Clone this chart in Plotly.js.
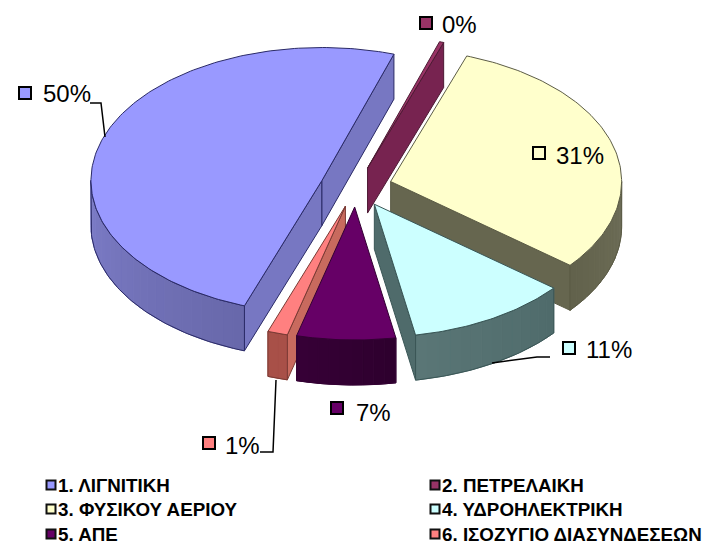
<!DOCTYPE html>
<html><head><meta charset="utf-8">
<script src="https://cdn.plot.ly/plotly-3.0.1.min.js"></script>
<style>html,body{margin:0;padding:0;background:#fff}</style></head>
<body><div id="chart" style="width:705px;height:544px"></div>
<script>
// ---- data ----
const categories = ["1. ΛΙΓΝΙΤΙΚΗ","2. ΠΕΤΡΕΛΑΙΚΗ","3. ΦΥΣΙΚΟΥ ΑΕΡΙΟΥ","4. ΥΔΡΟΗΛΕΚΤΡΙΚΗ","5. ΑΠΕ","6. ΙΣΟΖΥΓΙΟ ΔΙΑΣΥΝΔΕΣΕΩΝ"];
const shares = [49.6,0.3,30.5,11.3,6.9,1.4];
// ---- styles ----
const topColors = ["#9999ff","#993366","#ffffcc","#ccffff","#660066","#ff8080"];
const radialColors = ["#7777c2","#772350","#66664f","#4f6b6b","#330033","#c86a5e"];
const wallFrom = ["#7d7dc8","#772350","#6e6e58","#4f6b6b","#2e002e","#a85048"];
const wallTo = ["#6868aa","#772350","#62624c","#5a7676","#360036","#a85048"];
const edgeColors = ["#2a2a66","#4d1a33","#5c5c46","#3a5656","#330033","#7a3a34"];
// ---- pie geometry ----
const startAngle = 199.6, cx = 356, cy = 187, rx = 231, ry = 133, depth = 45, pullX = 36, pullY = 20;
const paintOrder = [1,2,0,3,5,4];
// ---- label / legend placement ----
const labelMarkX = [25,426,539,569,337,209];
const labelMarkY = [93,23,153,348,408,443];
const labelTextX = [43,442,556,586,356,225];
const labelTextY = [93,24,155,349,412,445];
const legendMarkX = [51,435,51,435,51,435];
const legendTextX = [58,442,58,442,58,442];
const legendY = [485,485,509,509,534,534];
const leaderX = [[90,101,105],[550,537,492],[260,273,276]];
const leaderY = [[103,103,137],[357,357,363],[452,452,380]];

const rad = d => d*Math.PI/180;
const total = shares.reduce((a,b)=>a+b,0);
const hex = c => [1,3,5].map(i=>parseInt(c.substr(i,2),16));
const mix = (a,b,t)=>{const A=hex(a),B=hex(b);return "rgb("+A.map((v,i)=>Math.round(v+(B[i]-v)*t)).join(",")+")";};
const traces = [];
function poly(xs,ys,fill,line){
  traces.push({type:"scatter",mode:"lines",x:xs.concat(xs[0]),y:ys.concat(ys[0]),fill:"toself",fillcolor:fill,
    line:{color:line||fill,width:1},hoverinfo:"skip",showlegend:false});
}
function arc(c,a,b,dz){
  const n=Math.max(2,Math.ceil(Math.abs(b-a)));const xs=[],ys=[];
  for(let i=0;i<=n;i++){const t=rad(a+(b-a)*i/n);xs.push(c[0]+rx*Math.sin(t));ys.push(c[1]-ry*Math.cos(t)+dz);}
  return [xs,ys];
}
let acc=startAngle;
const slices=shares.map(v=>{const s=v/total*360,a=acc%360,b=a+s;acc=a+s;return [a,b];});
paintOrder.forEach(i=>{
  const [a,b]=slices[i];const m=rad((a+b)/2);
  const c=[cx+pullX*Math.sin(m),cy-pullY*Math.cos(m)];
  const pt=(ang,dz)=>[c[0]+rx*Math.sin(rad(ang)),c[1]-ry*Math.cos(rad(ang))+dz];
  const radial=(ang)=>{const p=pt(ang,0);
    poly([c[0],p[0],p[0],c[0]],[c[1],p[1],p[1]+depth,c[1]+depth],radialColors[i],edgeColors[i]);};
  // radial walls facing the viewer
  if(-Math.sin(rad(a))>0) radial(a);
  if(Math.sin(rad(b))>0) radial(b);
  // outer wall on the front half
  const w0=Math.max(a,90), w1=Math.min(b,270);
  if(w1>w0){
    const steps=Math.ceil((w1-w0)/3);
    for(let s=0;s<steps;s++){
      const p=w0+(w1-w0)*s/steps,q=w0+(w1-w0)*(s+1)/steps;
      const T=arc(c,p,q,0),B=arc(c,q,p,depth);
      let t=(s+0.5)/steps; if(i===0) t=1-t;
      poly(T[0].concat(B[0]),T[1].concat(B[1]),mix(wallFrom[i],wallTo[i],t));
    }
    const T=arc(c,w0,w1,0),B=arc(c,w1,w0,depth);
    traces.push({type:"scatter",mode:"lines",x:T[0].concat(B[0],T[0][0]),y:T[1].concat(B[1],T[1][0]),
      line:{color:edgeColors[i],width:1},hoverinfo:"skip",showlegend:false});
  }
  // top face
  const A=arc(c,a,b,0);
  poly([c[0]].concat(A[0]),[c[1]].concat(A[1]),topColors[i],edgeColors[i]);
});
// leader lines
leaderX.forEach((xs,k)=>traces.push({type:"scatter",mode:"lines",x:xs,y:leaderY[k],line:{color:"#000",width:1.5},hoverinfo:"skip",showlegend:false}));
// value label keys
traces.push({type:"scatter",mode:"markers",x:labelMarkX,y:labelMarkY,hoverinfo:"skip",showlegend:false,
  marker:{symbol:"square",size:12,color:topColors,line:{color:"#000",width:2}}});
// legend keys
traces.push({type:"scatter",mode:"markers",x:legendMarkX,y:legendY,hoverinfo:"skip",showlegend:false,
  marker:{symbol:"square",size:9,color:topColors,line:{color:"#111",width:2}}});
const annotations=[];
shares.forEach((v,i)=>{
  annotations.push({x:labelTextX[i],y:labelTextY[i],xref:"x",yref:"y",xanchor:"left",yanchor:"middle",showarrow:false,
    text:Math.round(v)+"%",font:{family:"Liberation Sans, Arial, sans-serif",size:24,color:"#000"},borderpad:0,borderwidth:0});
  annotations.push({x:legendTextX[i],y:legendY[i],xref:"x",yref:"y",xanchor:"left",yanchor:"middle",showarrow:false,
    text:"<b>"+categories[i]+"</b>",font:{family:"Liberation Sans, Arial, sans-serif",size:18.8,color:"#000"},borderpad:0,borderwidth:0});
});
Plotly.newPlot("chart",traces,{
  width:705,height:544,margin:{l:0,r:0,t:0,b:0},paper_bgcolor:"#fff",plot_bgcolor:"#fff",showlegend:false,
  xaxis:{range:[0,705],visible:false,fixedrange:true},
  yaxis:{range:[544,0],visible:false,fixedrange:true},
  annotations:annotations
},{displayModeBar:false,staticPlot:true});
</script></body></html>
